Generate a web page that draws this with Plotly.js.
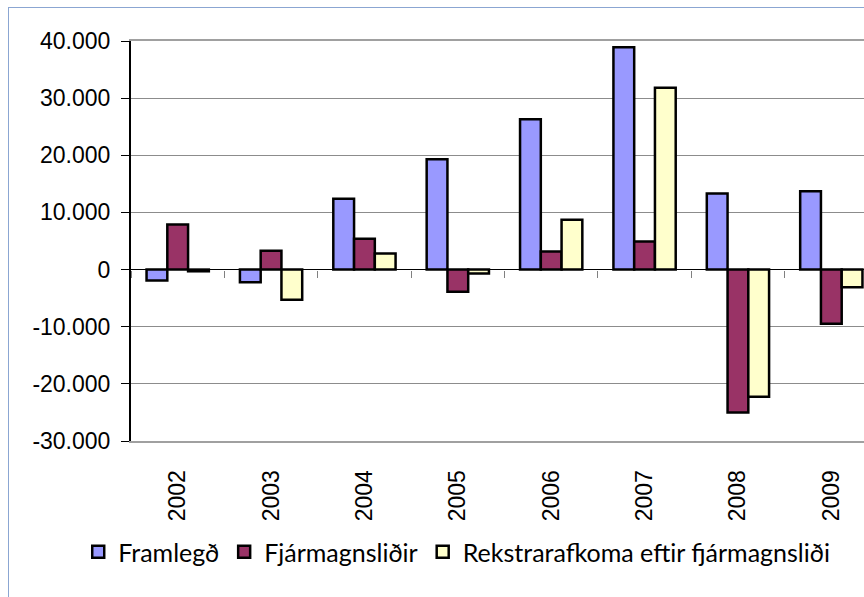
<!DOCTYPE html>
<html>
<head>
<meta charset="utf-8">
<script src="https://cdn.plot.ly/plotly-3.0.1.min.js"></script>
<style>
  body { margin: 0; background: #fff; }
  #chart { width: 864px; height: 597px; }
  #frame { position: absolute; left: 8px; top: 7px; width: 900px; height: 700px;
           border: 1.5px solid #8BA6D2; pointer-events: none; }
</style>
</head>
<body>
<div id="chart"></div>
<div id="frame"></div>
<script>
// years on the x axis
var years = ['2002', '2003', '2004', '2005', '2006', '2007', '2008', '2009'];

// series values
var framlegd = [-1900, -2200, 12400, 19300, 26300, 38900, 13300, 13700];
var fjarmagnslidir = [7900, 3300, 5400, -3900, 3150, 4900, -25000, -9500];
var rekstrarafkoma = [-300, -5300, 2800, -700, 8700, 31800, -22250, -3100];

// y tick labels (hyphen minus, dot as thousands separator)
var yTickVals = [-30000, -20000, -10000, 0, 10000, 20000, 30000, 40000];
var yTickText = ['-30.000', '-20.000', '-10.000', '0', '10.000', '20.000', '30.000', '40.000'];

var outline = {color: '#000', width: 2.5};

var data = [
  {type: 'bar', name: 'Framlegð', x: years, y: framlegd,
   marker: {color: '#9999FF', line: outline}},
  {type: 'bar', name: 'Fjármagnsliðir', x: years, y: fjarmagnslidir,
   marker: {color: '#993366', line: outline}},
  {type: 'bar', name: 'Rekstrarafkoma eftir fjármagnsliði', x: years, y: rekstrarafkoma,
   marker: {color: '#FFFFCC', line: outline}},
  // empty trace so the tick marks on the zero line can be drawn
  {type: 'scatter', mode: 'markers', x: years, y: years.map(function () { return null; }),
   xaxis: 'x2', showlegend: false, hoverinfo: 'skip'}
];

var layout = {
  width: 864,
  height: 597,
  margin: {l: 131, r: 0, t: 41, b: 156},
  paper_bgcolor: '#fff',
  plot_bgcolor: '#fff',
  font: {family: '"Liberation Sans", Arial, sans-serif', size: 23, color: '#000'},
  barmode: 'group',
  bargap: 0.333,
  bargroupgap: 0,
  showlegend: true,
  legend: {orientation: 'h', x: -0.072, xanchor: 'left', y: -0.2775, yanchor: 'middle',
           font: {family: 'Lato, "Open Sans", sans-serif', size: 25}, traceorder: 'normal',
           itemwidth: 30},
  xaxis: {
    type: 'category',
    range: [-0.5, 7.35],
    showgrid: false,
    showline: true, linecolor: '#A0A0A0', linewidth: 2, mirror: true,
    ticks: '', tickangle: -90,
    ticklabelstandoff: 18,
    tickfont: {size: 23}
  },
  xaxis2: {
    type: 'category',
    overlaying: 'x',
    anchor: 'free',
    position: 30000 / 70000,
    side: 'bottom',
    range: [-0.5, 7.35],
    tickson: 'boundaries',
    ticks: 'outside', ticklen: 7, tickcolor: '#808080', tickwidth: 1,
    showticklabels: false, showgrid: false, showline: false, zeroline: false
  },
  yaxis: {
    range: [-30000, 40000],
    tickmode: 'array', tickvals: yTickVals, ticktext: yTickText,
    showgrid: true, gridcolor: '#8C8C8C', gridwidth: 1,
    zeroline: true, zerolinecolor: '#000', zerolinewidth: 1.5,
    showline: true, linecolor: '#000', linewidth: 2,
    ticks: 'outside', ticklen: 8, tickcolor: '#000',
    ticklabelstandoff: 6,
    tickfont: {size: 23}
  }
};

Plotly.newPlot('chart', data, layout, {displayModeBar: false, staticPlot: true});
</script>
</body>
</html>
